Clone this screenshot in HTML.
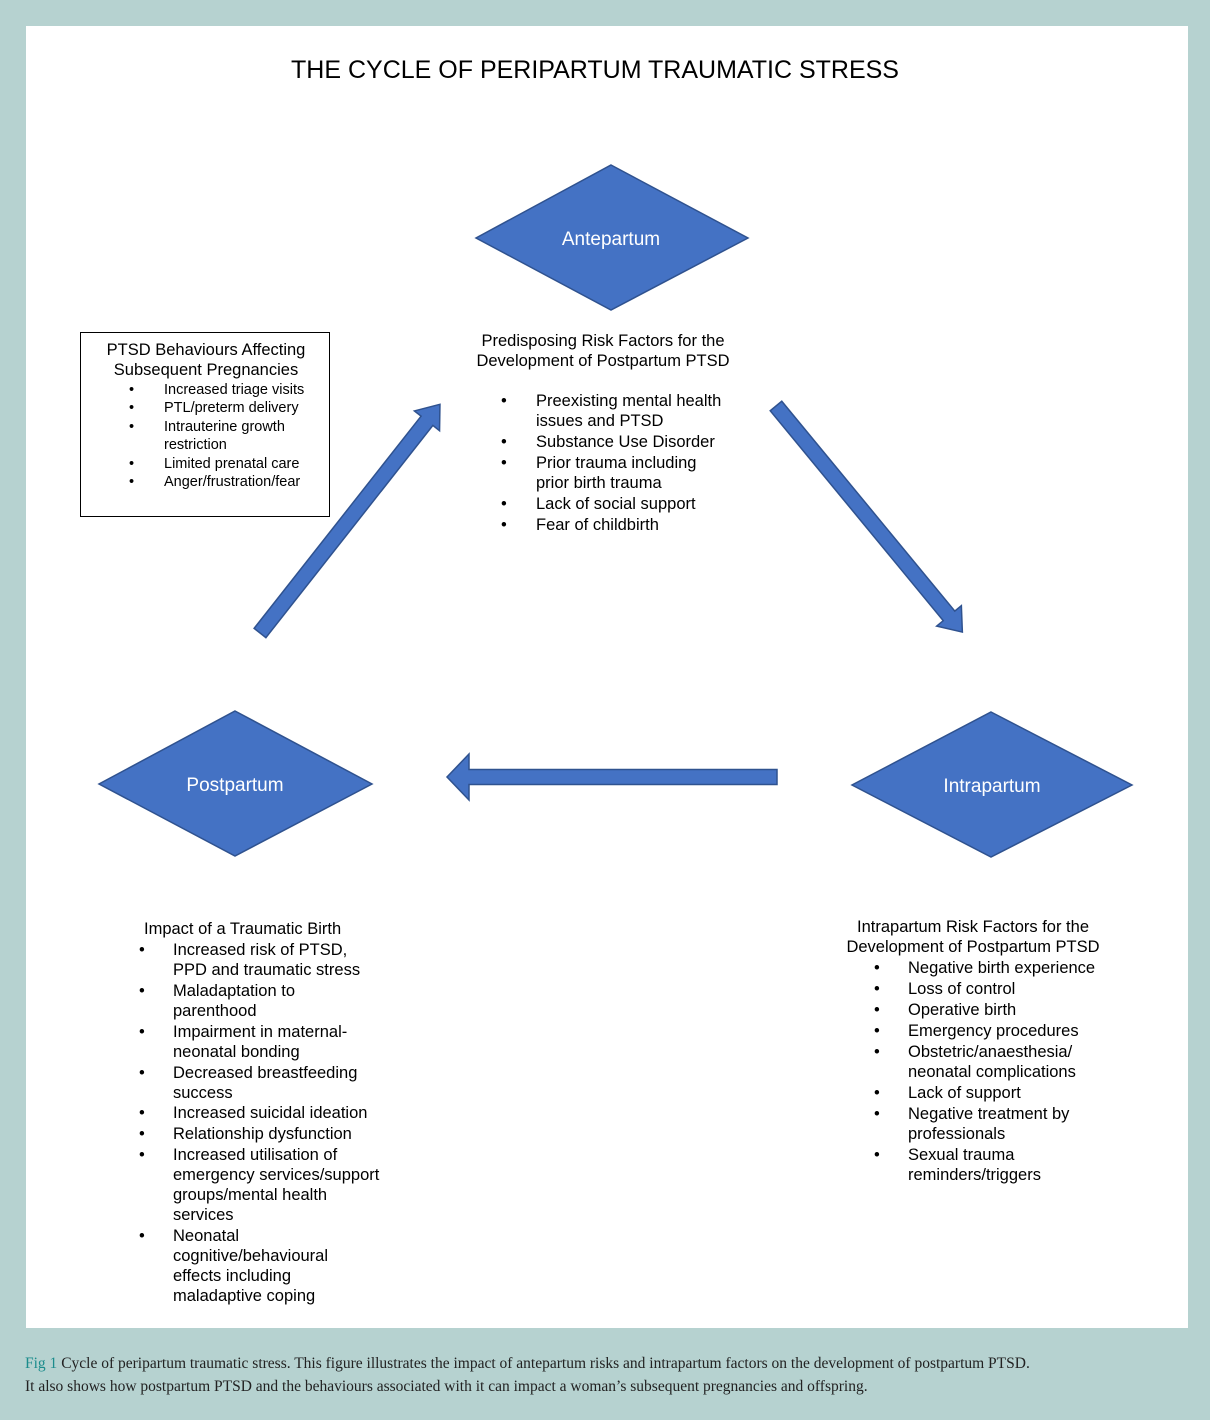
<!DOCTYPE html>
<html><head><meta charset="utf-8"><style>
html,body{margin:0;padding:0}
body{width:1210px;height:1420px;background:#b6d2d0;position:relative;overflow:hidden;font-family:"Liberation Sans",Arial,sans-serif;color:#000}
#panel{position:absolute;left:26px;top:26px;width:1162px;height:1302px;background:#fff}
.t{position:absolute;font-size:16.5px;line-height:20px;white-space:nowrap}
.s{position:absolute;font-size:14.5px;line-height:18px;white-space:nowrap}
.c{transform:translateX(-50%);text-align:center}
.cap{position:absolute;left:25px;font-family:"Liberation Serif",serif;font-size:15.5px;white-space:nowrap;color:#222}
</style></head><body>
<div id="panel"></div>
<svg width="1210" height="1420" style="position:absolute;left:0;top:0">
<g fill="#4472c4" stroke="#2f528f" stroke-width="1.5">
<polygon points="611,165 748,238 611,310 476,238"/>
<polygon points="235,711 372,784 235,856 99,784"/>
<polygon points="991,712 1132,785 991,857 852,785"/>
<g transform="translate(260,633) rotate(-51.8)"><polygon points="0,-7.5 270,-7.5 270,-16 291,0 270,16 270,7.5 0,7.5"/></g>
<g transform="translate(776,406) rotate(50.5)"><polygon points="0,-7.5 272,-7.5 272,-16 293,0 272,16 272,7.5 0,7.5"/></g>
<g transform="translate(777,777) rotate(180)"><polygon points="0,-7.5 308,-7.5 308,-23 330,0 308,23 308,7.5 0,7.5"/></g>
</g>
<rect x="80.5" y="332.5" width="249" height="184" fill="none" stroke="#000" stroke-width="1"/>
<text x="611" y="245" fill="#fff" font-family="Liberation Sans" font-size="19" text-anchor="middle">Antepartum</text>
<text x="235" y="791" fill="#fff" font-family="Liberation Sans" font-size="19" text-anchor="middle">Postpartum</text>
<text x="992" y="792" fill="#fff" font-family="Liberation Sans" font-size="19" text-anchor="middle">Intrapartum</text>
</svg>
<div class="t c" style="left:595px;top:55px;font-size:25px;line-height:30px">THE CYCLE OF PERIPARTUM TRAUMATIC STRESS</div>

<div class="t c" style="left:603px;top:331px">Predisposing Risk Factors for the</div>
<div class="t c" style="left:603px;top:351px">Development of Postpartum PTSD</div>
<div class="t" style="left:501px;top:391px">•</div><div class="t" style="left:536px;top:391px">Preexisting mental health</div>
<div class="t" style="left:536px;top:411px">issues and PTSD</div>
<div class="t" style="left:501px;top:432px">•</div><div class="t" style="left:536px;top:432px">Substance Use Disorder</div>
<div class="t" style="left:501px;top:453px">•</div><div class="t" style="left:536px;top:453px">Prior trauma including</div>
<div class="t" style="left:536px;top:473px">prior birth trauma</div>
<div class="t" style="left:501px;top:494px">•</div><div class="t" style="left:536px;top:494px">Lack of social support</div>
<div class="t" style="left:501px;top:515px">•</div><div class="t" style="left:536px;top:515px">Fear of childbirth</div>

<div class="t c" style="left:206px;top:340px">PTSD Behaviours Affecting</div>
<div class="t c" style="left:206px;top:360px">Subsequent Pregnancies</div>
<div class="s" style="left:129px;top:381px">•</div><div class="s" style="left:164px;top:381px">Increased triage visits</div>
<div class="s" style="left:129px;top:399px">•</div><div class="s" style="left:164px;top:399px">PTL/preterm delivery</div>
<div class="s" style="left:129px;top:418px">•</div><div class="s" style="left:164px;top:418px">Intrauterine growth</div>
<div class="s" style="left:164px;top:436px">restriction</div>
<div class="s" style="left:129px;top:455px">•</div><div class="s" style="left:164px;top:455px">Limited prenatal care</div>
<div class="s" style="left:129px;top:473px">•</div><div class="s" style="left:164px;top:473px">Anger/frustration/fear</div>

<div class="t" style="left:144px;top:919px">Impact of a Traumatic Birth</div>
<div class="t" style="left:139px;top:940px">•</div><div class="t" style="left:173px;top:940px">Increased risk of PTSD,</div>
<div class="t" style="left:173px;top:960px">PPD and traumatic stress</div>
<div class="t" style="left:139px;top:981px">•</div><div class="t" style="left:173px;top:981px">Maladaptation to</div>
<div class="t" style="left:173px;top:1001px">parenthood</div>
<div class="t" style="left:139px;top:1022px">•</div><div class="t" style="left:173px;top:1022px">Impairment in maternal-</div>
<div class="t" style="left:173px;top:1042px">neonatal bonding</div>
<div class="t" style="left:139px;top:1063px">•</div><div class="t" style="left:173px;top:1063px">Decreased breastfeeding</div>
<div class="t" style="left:173px;top:1083px">success</div>
<div class="t" style="left:139px;top:1103px">•</div><div class="t" style="left:173px;top:1103px">Increased suicidal ideation</div>
<div class="t" style="left:139px;top:1124px">•</div><div class="t" style="left:173px;top:1124px">Relationship dysfunction</div>
<div class="t" style="left:139px;top:1145px">•</div><div class="t" style="left:173px;top:1145px">Increased utilisation of</div>
<div class="t" style="left:173px;top:1165px">emergency services/support</div>
<div class="t" style="left:173px;top:1185px">groups/mental health</div>
<div class="t" style="left:173px;top:1205px">services</div>
<div class="t" style="left:139px;top:1226px">•</div><div class="t" style="left:173px;top:1226px">Neonatal</div>
<div class="t" style="left:173px;top:1246px">cognitive/behavioural</div>
<div class="t" style="left:173px;top:1266px">effects including</div>
<div class="t" style="left:173px;top:1286px">maladaptive coping</div>

<div class="t c" style="left:973px;top:917px">Intrapartum Risk Factors for the</div>
<div class="t c" style="left:973px;top:937px">Development of Postpartum PTSD</div>
<div class="t" style="left:874px;top:958px">•</div><div class="t" style="left:908px;top:958px">Negative birth experience</div>
<div class="t" style="left:874px;top:979px">•</div><div class="t" style="left:908px;top:979px">Loss of control</div>
<div class="t" style="left:874px;top:1000px">•</div><div class="t" style="left:908px;top:1000px">Operative birth</div>
<div class="t" style="left:874px;top:1021px">•</div><div class="t" style="left:908px;top:1021px">Emergency procedures</div>
<div class="t" style="left:874px;top:1042px">•</div><div class="t" style="left:908px;top:1042px">Obstetric/anaesthesia/</div>
<div class="t" style="left:908px;top:1062px">neonatal complications</div>
<div class="t" style="left:874px;top:1083px">•</div><div class="t" style="left:908px;top:1083px">Lack of support</div>
<div class="t" style="left:874px;top:1104px">•</div><div class="t" style="left:908px;top:1104px">Negative treatment by</div>
<div class="t" style="left:908px;top:1124px">professionals</div>
<div class="t" style="left:874px;top:1145px">•</div><div class="t" style="left:908px;top:1145px">Sexual trauma</div>
<div class="t" style="left:908px;top:1165px">reminders/triggers</div>

<div class="cap" style="top:1355px"><span style="color:#1b8c8c">Fig 1</span> Cycle of peripartum traumatic stress. This figure illustrates the impact of antepartum risks and intrapartum factors on the development of postpartum PTSD.</div>
<div class="cap" style="top:1378px">It also shows how postpartum PTSD and the behaviours associated with it can impact a woman’s subsequent pregnancies and offspring.</div>
</body></html>
